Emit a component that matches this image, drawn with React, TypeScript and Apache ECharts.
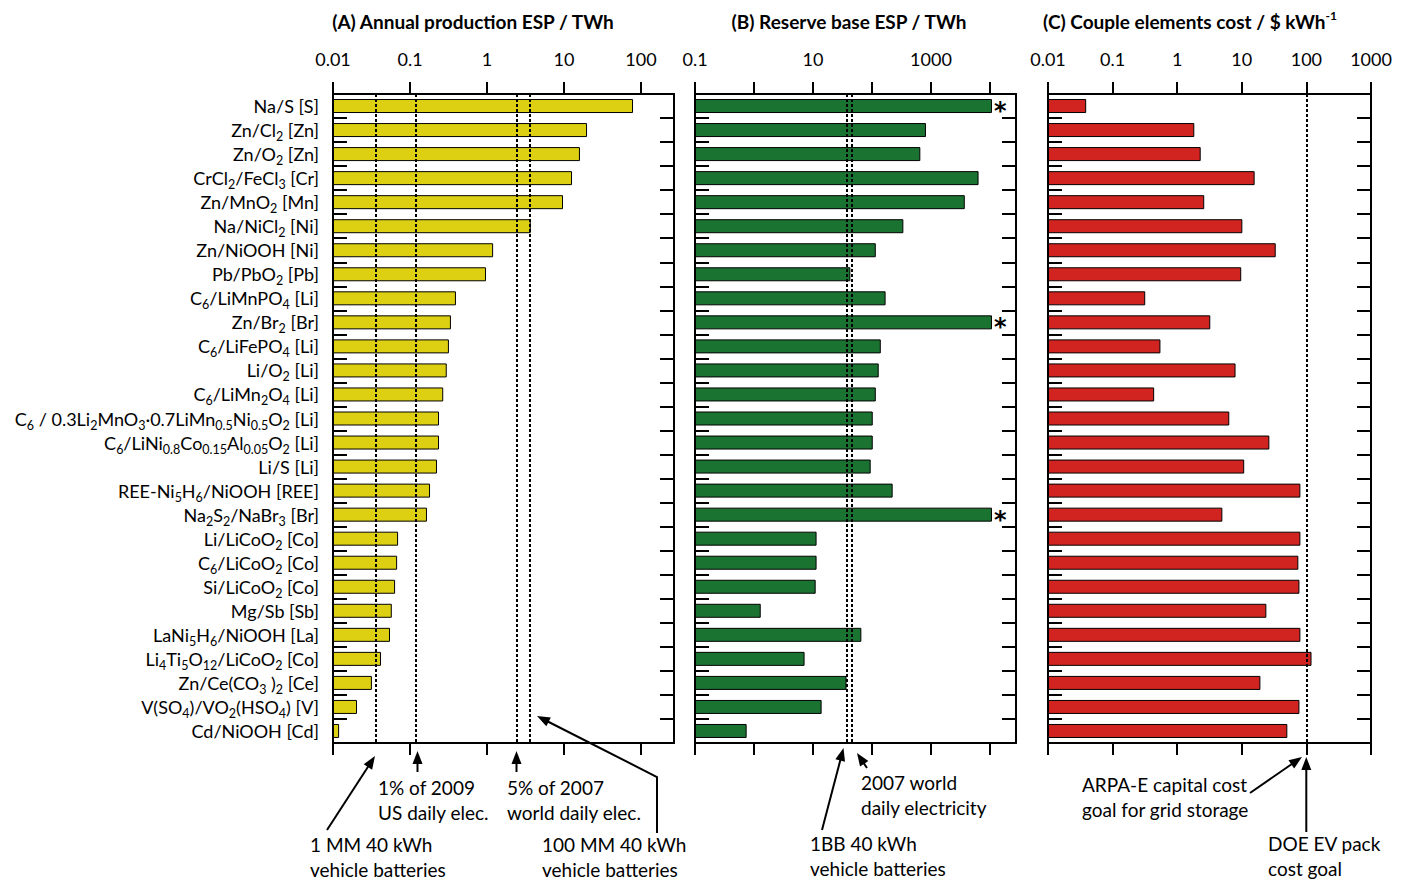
import React, { useEffect, useRef } from 'react';
import * as echarts from 'echarts';

const categories = [
  'Na/S [S]',
  'Zn/Cl{s|2} [Zn]',
  'Zn/O{s|2} [Zn]',
  'CrCl{s|2}/FeCl{s|3} [Cr]',
  'Zn/MnO{s|2} [Mn]',
  'Na/NiCl{s|2} [Ni]',
  'Zn/NiOOH [Ni]',
  'Pb/PbO{s|2} [Pb]',
  'C{s|6}/LiMnPO{s|4} [Li]',
  'Zn/Br{s|2} [Br]',
  'C{s|6}/LiFePO{s|4} [Li]',
  'Li/O{s|2} [Li]',
  'C{s|6}/LiMn{s|2}O{s|4} [Li]',
  'C{s|6} / 0.3Li{s|2}MnO{s|3}·0.7LiMn{s|0.5}Ni{s|0.5}O{s|2} [Li]',
  'C{s|6}/LiNi{s|0.8}Co{s|0.15}Al{s|0.05}O{s|2} [Li]',
  'Li/S [Li]',
  'REE-Ni{s|5}H{s|6}/NiOOH [REE]',
  'Na{s|2}S{s|2}/NaBr{s|3} [Br]',
  'Li/LiCoO{s|2} [Co]',
  'C{s|6}/LiCoO{s|2} [Co]',
  'Si/LiCoO{s|2} [Co]',
  'Mg/Sb [Sb]',
  'LaNi{s|5}H{s|6}/NiOOH [La]',
  'Li{s|4}Ti{s|5}O{s|12}/LiCoO{s|2} [Co]',
  'Zn/Ce(CO{s|3} ){s|2} [Ce]',
  'V(SO{s|4})/VO{s|2}(HSO{s|4}) [V]',
  'Cd/NiOOH [Cd]',
];

const annualProductionTWh = [
  78.7, 19.9, 16.1, 12.7, 9.7, 3.7, 1.2, 0.97, 0.395, 0.34, 0.32, 0.3, 0.27, 0.238,
  0.238, 0.224, 0.182, 0.166, 0.07, 0.068, 0.064, 0.058, 0.055, 0.042, 0.032, 0.0205, 0.012,
];
const reserveBaseTWh = [
  10800, 822, 660, 6400, 3740, 340, 116, 43, 170, 10800, 141, 130, 116, 103,
  103, 95, 224, 10800, 11.5, 11.5, 11.1, 1.3, 66, 7.2, 37, 14, 0.75,
];
const reserveTruncated = [
  true, false, false, false, false, false, false, false, false, true, false, false, false, false,
  false, false, false, true, false, false, false, false, false, false, false, false, false,
];
const coupleCostPerKWh = [
  0.039, 1.84, 2.31, 15.8, 2.62, 10.2, 33.5, 9.8, 0.32, 3.25, 0.55, 8.0, 0.44, 6.4,
  26.7, 10.9, 80.7, 5.0, 80.7, 75, 78, 24, 80.7, 120, 19.4, 78, 50.7,
];
const productionRefLines = [0.0355, 0.1175, 2.41, 3.61];
const reserveRefLines = [37, 45];
const costRefLines = [100];

const titles = [
  '(A) Annual production ESP / TWh',
  '(B) Reserve base ESP / TWh',
  '(C) Couple elements cost / $ kWh{sup|-1}',
];
const ticksA = [0.01, 0.1, 1, 10, 100];
const ticksB = [0.1, 1, 10, 100, 1000, 10000];
const labelsB = [0.1, 10, 1000];
const ticksC = [0.01, 0.1, 1, 10, 100, 1000];

const FONT = 'Lato';

function fmtNum(v: number) {
  const e = Math.round(Math.log10(v));
  if (Math.abs(Math.log10(v) - e) > 1e-6) return '';
  return e < 0 ? Math.pow(10, e).toFixed(-e) : String(Math.round(Math.pow(10, e)));
}

function arrow(points: number[][]) {
  const n = points.length;
  const [x1, y1] = points[n - 2];
  const [x2, y2] = points[n - 1];
  const ang = Math.atan2(y2 - y1, x2 - x1);
  const L = 13;
  const W = 5;
  const bx = x2 - L * Math.cos(ang);
  const by = y2 - L * Math.sin(ang);
  const head = [
    [x2, y2],
    [bx + W * Math.sin(ang), by - W * Math.cos(ang)],
    [bx - W * Math.sin(ang), by + W * Math.cos(ang)],
  ];
  const pts = points.slice(0, n - 1).concat([[bx + 2 * Math.cos(ang), by + 2 * Math.sin(ang)]]);
  return [
    { type: 'polyline', shape: { points: pts }, style: { stroke: '#000', lineWidth: 2, fill: 'none' } },
    { type: 'polygon', shape: { points: head }, style: { fill: '#000' } },
  ];
}

function note(text: string, x: number, y: number) {
  return {
    type: 'text',
    x,
    y,
    style: {
      text,
      fontFamily: FONT,
      fontSize: 19,
      lineHeight: 25,
      fill: '#000',
      align: 'left',
      verticalAlign: 'middle',
    },
  };
}

export default function App() {
  const ref = useRef<HTMLDivElement>(null);
  useEffect(() => {
    if (!ref.current) return;
    const chart = echarts.init(ref.current, null, { renderer: 'svg' });
    const panels = [
      { left: 333, width: 341, min: 0.01, max: 268, data: annualProductionTWh, color: '#DDD012', lines: productionRefLines, ticks: ticksA, labels: ticksA, cats: true },
      { left: 695, width: 321, min: 0.1, max: 27600, data: reserveBaseTWh, color: '#1B7332', lines: reserveRefLines, ticks: ticksB, labels: labelsB, cats: false },
      { left: 1048, width: 323, min: 0.01, max: 1000, data: coupleCostPerKWh, color: '#D12420', lines: costRefLines, ticks: ticksC, labels: ticksC, cats: false },
    ];
    const grids: any[] = [];
    const xAxes: any[] = [];
    const yAxes: any[] = [];
    const series: any[] = [];
    panels.forEach((p, i) => {
      grids.push({ left: p.left, top: 94, width: p.width, height: 649, outerBoundsMode: 'none', containLabel: false });
      const xBase = {
        type: 'log',
        logBase: 10,
        gridIndex: i,
        min: p.min,
        max: p.max,
        startValue: p.min,
        splitLine: { show: false },
        axisLine: { show: true, lineStyle: { color: '#000', width: 2 } },
        axisTick: { show: true, inside: false, length: 12, lineStyle: { color: '#000', width: 2 }, customValues: p.ticks },
      };
      xAxes.push({
        ...xBase,
        position: 'top',
        axisLabel: {
          show: true,
          customValues: p.labels,
          margin: 26,
          fontFamily: FONT,
          fontSize: 18,
          color: '#000',
          formatter: (v: number) => {
            const s = fmtNum(v);
            if (!s) return '';
            if (p.labels.some((l) => Math.abs(Math.log10(l) - Math.log10(v)) < 1e-6)) return s;
            return '';
          },
        },
      });
      xAxes.push({ ...xBase, position: 'bottom', axisLabel: { show: false } });
      const yBase = {
        type: 'category',
        gridIndex: i,
        inverse: true,
        data: categories,
        axisLine: { show: true, lineStyle: { color: '#000', width: 2 } },
        axisTick: { show: true, inside: true, length: 14, interval: 0, lineStyle: { color: '#000', width: 2 } },
        splitLine: { show: false },
      };
      yAxes.push({
        ...yBase,
        position: 'left',
        axisLabel: p.cats
          ? {
              show: true,
              interval: 0,
              margin: 14,
              fontFamily: FONT,
              fontSize: 18,
              lineHeight: 22,
              color: '#000',
              formatter: (v: string) => v,
              rich: { s: { fontFamily: FONT, fontSize: 12.5, lineHeight: 12, padding: [13, 0, 0, 0], color: '#000' } },
            }
          : { show: false },
      });
      yAxes.push({ ...yBase, position: 'right', axisLabel: { show: false } });
      series.push({
        type: 'bar',
        xAxisIndex: 2 * i,
        yAxisIndex: 2 * i,
        barWidth: 14,
        itemStyle: { color: p.color, borderColor: '#000', borderWidth: 1 },
        data: p.data.map((v, k) =>
          i === 1 && reserveTruncated[k]
            ? {
                value: v,
                label: {
                  show: true,
                  position: 'right',
                  formatter: '*',
                  fontFamily: 'DejaVu Sans',
                  fontSize: 24,
                  fontWeight: 'bold',
                  color: '#000',
                  distance: 2,
                  offset: [0, 5],
                },
              }
            : v
        ),
        markLine: {
          silent: true,
          precision: 8,
          symbol: ['none', 'none'],
          label: { show: false },
          lineStyle: { color: '#000', type: [3, 2], width: 2 },
          data: p.lines.map((v) => ({ xAxis: v })),
        },
      });
    });

    const titleCenters = [473, 849, 1190];
    const graphics: any[] = titles.map((t, i) => ({
      type: 'text',
      x: titleCenters[i],
      y: 21,
      style: {
        text: t,
        fontFamily: FONT,
        fontSize: 19,
        fontWeight: 'bold',
        lineHeight: 24,
        fill: '#000',
        align: 'center',
        verticalAlign: 'middle',
        rich: { sup: { fontFamily: FONT, fontSize: 12, fontWeight: 'bold', lineHeight: 10, verticalAlign: 'top', fill: '#000' } },
      },
    }));
    graphics.push(
      note('1 MM 40 kWh\nvehicle batteries', 310, 857),
      note('1% of 2009\nUS daily elec.', 378, 800),
      note('5% of 2007\nworld daily elec.', 507, 800),
      note('100 MM 40 kWh\nvehicle batteries', 542, 857),
      note('2007 world\ndaily electricity', 861, 795),
      note('1BB 40 kWh\nvehicle batteries', 810, 856),
      note('ARPA-E capital cost\ngoal for grid storage', 1082, 797),
      note('DOE EV pack\ncost goal', 1268, 856),
      ...arrow([[327, 830], [375, 756]]),
      ...arrow([[417.5, 772], [417.5, 751]]),
      ...arrow([[516.5, 772], [516.5, 751]]),
      ...arrow([[657, 833], [657, 777], [537, 716]]),
      ...arrow([[822, 830], [843.5, 748]]),
      ...arrow([[867, 768], [857, 753]]),
      ...arrow([[1250, 793], [1302, 757]]),
      ...arrow([[1306.3, 832], [1306.3, 757]])
    );

    chart.setOption({
      animation: false,
      textStyle: { fontFamily: FONT },
      grid: grids,
      xAxis: xAxes,
      yAxis: yAxes,
      series,
      graphic: graphics,
    });
    return () => chart.dispose();
  }, []);
  return <div ref={ref} style={{ position: 'fixed', left: 0, top: 0, width: 1406, height: 881, background: '#fff' }} />;
}
